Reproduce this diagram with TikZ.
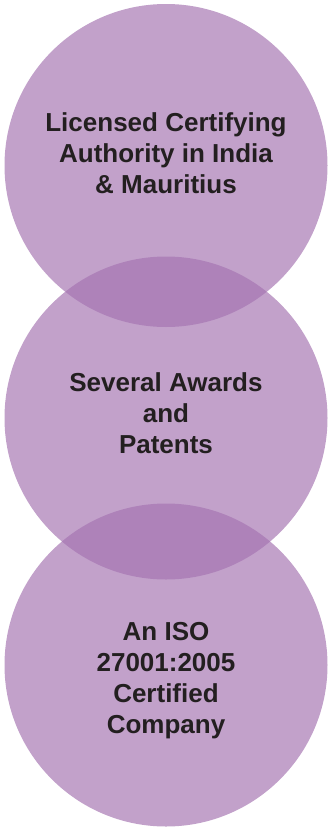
\documentclass[tikz,border=0pt]{standalone}
\usepackage{fontspec}
\setmainfont{Liberation Sans}
\usepackage{tikz}

\definecolor{petal}{RGB}{165,116,177}
\definecolor{inkdark}{RGB}{35,31,32}

\begin{document}
\begin{tikzpicture}[
    x = 1pt,
    y = 1pt,
    every node/.style = {inner sep = 0pt},
    petal/.style = {
        circle,
        minimum size = 323pt,
        fill = petal,
        fill opacity = 0.68
    },
    claim/.style = {
        align = center,
        text = inkdark,
        font = \fontsize{26}{31}\selectfont\bfseries
    }
]

\useasboundingbox (0,0) rectangle (327,-827);

% the three circles
\node[petal] (authority) at (166,-165.5) {};
\node[petal] (awards)    at (166,-418)   {};
\node[petal] (iso)       at (166,-665)   {};

% their texts
\node[claim, anchor = north] (authority text) at (166,-112)
    {Licensed Certifying\\Authority in India\\\& Mauritius};
\node[claim, anchor = north] (awards text) at (166,-372)
    {Several Awards\\and\\Patents};
\node[claim, anchor = north] (iso text) at (166,-622)
    {An ISO\\27001:2005\\Certified\\Company};

\end{tikzpicture}
\end{document}
